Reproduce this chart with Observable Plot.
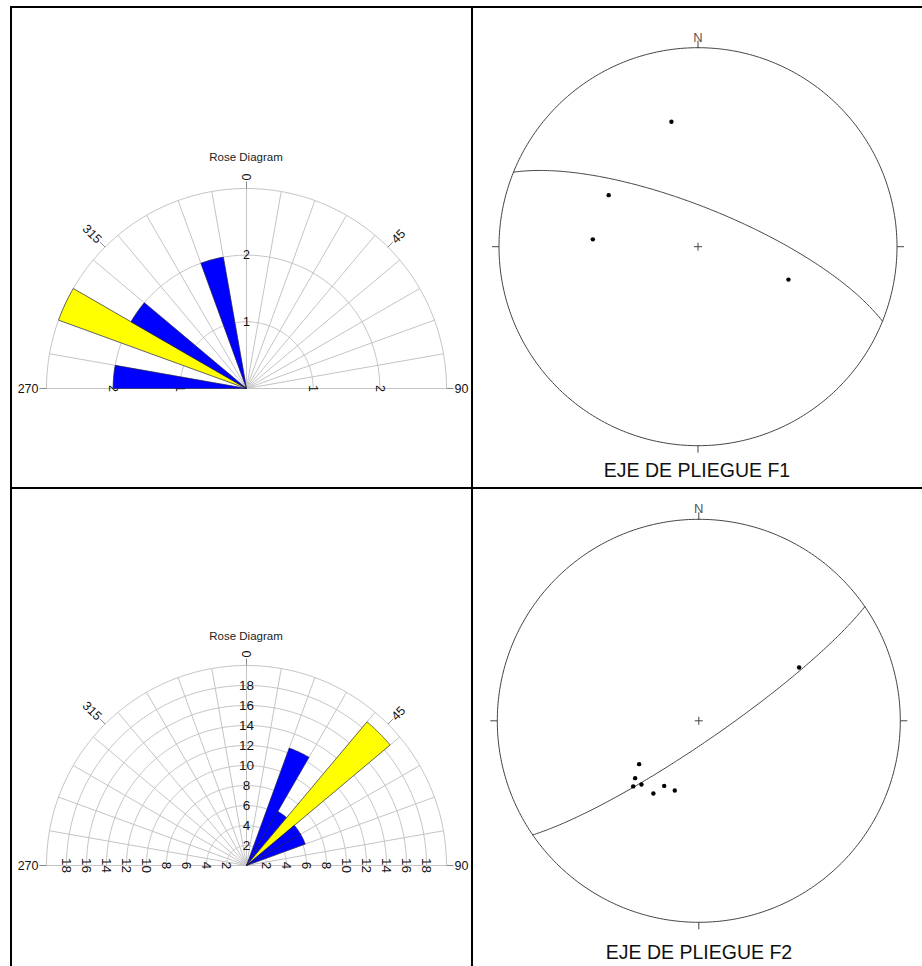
<!DOCTYPE html>
<html>
<head>
<meta charset="utf-8">
<script src="https://cdn.jsdelivr.net/npm/d3@7"></script>
<script src="https://cdn.jsdelivr.net/npm/@observablehq/plot@0.6"></script>
<style>
  body { margin: 0; background: #fff; font-family: "Liberation Sans", Arial, sans-serif; }
  #page { position: relative; width: 922px; height: 966px; overflow: hidden; background: #fff; }
  .rule { position: absolute; background: #000; }
  .title { position: absolute; text-align: center; white-space: nowrap; color: #222; }
  .panel { position: absolute; }
</style>
</head>
<body>
<div id="page"></div>
<script>
// ---- Rose diagram, fold F1 (counts per 10° bin, bin given by its start azimuth)
const rose1Bins = [270, 290, 300, 340];
const rose1Counts = [2, 3, 2, 2];
const rose1Rings = [1, 2, 3];
const rose1RingLabels = [1, 2];

// ---- Rose diagram, fold F2 (percent per 10° bin)
const rose2Bins = [20, 30, 40, 50, 60];
const rose2Percent = [12.5, 6.25, 18.75, 6.25, 6.25];
const rose2Rings = [2, 4, 6, 8, 10, 12, 14, 16, 18, 20];
const rose2RingLabels = [2, 4, 6, 8, 10, 12, 14, 16, 18];

const azimuthLabels = [270, 315, 0, 45, 90];

// ---- Stereonet F1: measured lines (trend / plunge) and fitted plane
const f1Trend = [348, 300, 274, 110];
const f1Plunge = [36, 47, 46, 50];
const f1PlaneDipDir = [22];
const f1PlaneDip = [74];

// ---- Stereonet F2
const f2Trend = [62, 234, 228, 225, 222, 212, 208, 199];
const f2Plunge = [43, 60, 55, 52, 55, 55, 60, 60];
const f2PlaneDipDir = [145.5];
const f2PlaneDip = [81.5];

const rad = Math.PI / 180;
const page = document.getElementById("page");

// table rules
[[10, 6, 912, 2], [10, 6, 2, 960], [471, 6, 2, 960], [10, 487, 912, 2]].forEach(([l, t, w, h]) => {
  const d = document.createElement("div");
  d.className = "rule";
  Object.assign(d.style, {left: l + "px", top: t + "px", width: w + "px", height: h + "px"});
  page.appendChild(d);
});

function addTitle(text, cx, top, size, width, color) {
  const d = document.createElement("div");
  d.className = "title";
  d.textContent = text;
  Object.assign(d.style, {
    left: (cx - width / 2) + "px", top: top + "px", width: width + "px",
    fontSize: size + "px", lineHeight: Math.round(size * 1.2) + "px", color
  });
  page.appendChild(d);
}

// linear x/y scales in chart units, k pixels per unit, origin at page point (cx, cy)
function frame(cell, cx, cy, k) {
  const [x0, y0, w, h] = cell;
  return {
    width: w, height: h,
    marginTop: 0, marginRight: 0, marginBottom: 0, marginLeft: 0,
    x: {domain: [(x0 - cx) / k, (x0 + w - cx) / k], axis: null},
    y: {domain: [(cy - (y0 + h)) / k, (cy - y0) / k], axis: null},
    style: {background: "transparent", overflow: "visible", fontFamily: "'Liberation Sans', Arial, sans-serif"}
  };
}

function place(svg, cell) {
  svg.classList.add("panel");
  svg.style.left = cell[0] + "px";
  svg.style.top = cell[1] + "px";
  page.appendChild(svg);
}

const polar = (r, a) => ({x: r * Math.sin(a * rad), y: r * Math.cos(a * rad)});
const arc = (r, a0, a1) => d3.range(a0, a1 + 1e-9, 1).map(a => polar(r, a));

function rose(cell, cx, cy, R, bins, values, rings, ringLabels, ringFont) {
  const max = d3.max(rings);
  const k = R / max;
  const peak = d3.max(values);
  const tick = 7 / k, gap = 8 / k;

  const ringPts = rings.flatMap(r => arc(r, -90, 90).map(p => ({...p, ring: r})));
  const rays = d3.range(-90, 90 + 1e-9, 10).map(a => ({a, ...polar(max, a)}));
  const petals = bins.flatMap((b, i) =>
    [{x: 0, y: 0}, ...arc(values[i], b, b + 10), {x: 0, y: 0}]
      .map(p => ({...p, id: i, color: values[i] === peak ? "#ffff00" : "#0000ff"})));
  const degTicks = azimuthLabels.map(a => ({p0: polar(max, a), p1: polar(max + tick, a)}));
  const degText = azimuthLabels.map(a => ({
    ...polar(max + gap, a), text: String(a),
    rotate: a < 180 ? a - 90 : a - 270, right: a < 180
  }));
  const vLabels = ringLabels.map(v => ({x: 0, y: v, text: String(v)}));
  const hLabels = ringLabels.flatMap(v => [{x: -v, y: 0, text: String(v)}, {x: v, y: 0, text: String(v)}]);

  const svg = Plot.plot({
    ...frame(cell, cx, cy, k),
    marks: [
      Plot.line(ringPts, {x: "x", y: "y", z: "ring", stroke: "#c4c4c4", strokeWidth: 1}),
      Plot.link(rays, {x1: 0, y1: 0, x2: "x", y2: "y", stroke: "#c4c4c4", strokeWidth: 1}),
      Plot.link(degTicks, {x1: d => d.p0.x, y1: d => d.p0.y, x2: d => d.p1.x, y2: d => d.p1.y, stroke: "#8a8a8a", strokeWidth: 1}),
      Plot.text(vLabels, {x: "x", y: "y", text: "text", fontSize: ringFont, fill: "#111"}),
      Plot.text(hLabels, {x: "x", y: "y", text: "text", rotate: 90, fontSize: ringFont, fill: "#111"}),
      Plot.line(petals, {x: "x", y: "y", z: "id", fill: "color", stroke: "#1a1a40", strokeWidth: 0.6, strokeLinejoin: "miter"}),
      Plot.text(degText.filter(d => d.right), {x: "x", y: "y", text: "text", rotate: "rotate", textAnchor: "start", fontSize: 12.5, fill: "#111"}),
      Plot.text(degText.filter(d => !d.right), {x: "x", y: "y", text: "text", rotate: "rotate", textAnchor: "end", fontSize: 12.5, fill: "#111"})
    ]
  });
  place(svg, cell);
}

// lower-hemisphere equal-area (Schmidt) projection, primitive radius 1
function project(trend, plunge) {
  const r = Math.SQRT2 * Math.sin((90 - plunge) / 2 * rad);
  return polar(r, trend);
}

function greatCircle(dipDir, dip) {
  const s = dipDir - 90;
  const sv = [Math.sin(s * rad), Math.cos(s * rad), 0];
  const dv = [Math.sin(dipDir * rad) * Math.cos(dip * rad), Math.cos(dipDir * rad) * Math.cos(dip * rad), Math.sin(dip * rad)];
  return d3.range(0, 180 + 1e-9, 1).map(a => {
    const c = Math.cos(a * rad), n = Math.sin(a * rad);
    const v = sv.map((e, i) => c * e + n * dv[i]);
    const plunge = Math.asin(Math.min(1, Math.max(-1, v[2]))) / rad;
    const trend = Math.atan2(v[0], v[1]) / rad;
    return project(trend, plunge);
  });
}

function stereonet(cell, cx, cy, R, trends, plunges, dipDirs, dips) {
  const k = R;
  const t = 7 / R, c = 4 / R;
  const primitive = d3.range(0, 360 + 1e-9, 1).map(a => polar(1, a));
  const planes = dipDirs.flatMap((dd, i) => greatCircle(dd, dips[i]).map(p => ({...p, id: i})));
  const pts = trends.map((tr, i) => project(tr, plunges[i]));
  const ticks = [0, 90, 180, 270].map(a => ({p0: polar(1, a), p1: polar(1 + t, a)}));
  const cross = [{x1: -c, y1: 0, x2: c, y2: 0}, {x1: 0, y1: -c, x2: 0, y2: c}];

  const svg = Plot.plot({
    ...frame(cell, cx, cy, k),
    marks: [
      Plot.line(primitive, {x: "x", y: "y", stroke: "#444", strokeWidth: 1}),
      Plot.link(ticks, {x1: d => d.p0.x, y1: d => d.p0.y, x2: d => d.p1.x, y2: d => d.p1.y, stroke: "#444", strokeWidth: 1}),
      Plot.link(cross, {x1: "x1", y1: "y1", x2: "x2", y2: "y2", stroke: "#444", strokeWidth: 1}),
      Plot.line(planes, {x: "x", y: "y", z: "id", stroke: "#444", strokeWidth: 1}),
      Plot.dot(pts, {x: "x", y: "y", r: 2.2, fill: "#000", stroke: "none"}),
      Plot.text([{x: 0, y: 1 + 10 / R}], {x: "x", y: "y", text: () => "N", fontSize: 13, fill: "#555"})
    ]
  });
  place(svg, cell);
}

const cellTL = [12, 8, 459, 479];
const cellTR = [473, 8, 449, 479];
const cellBL = [12, 489, 459, 477];
const cellBR = [473, 489, 449, 477];

rose(cellTL, 246, 388, 200, rose1Bins, rose1Counts, rose1Rings, rose1RingLabels, 12.5);
rose(cellBL, 246, 865, 200, rose2Bins, rose2Percent, rose2Rings, rose2RingLabels, 13.5);
stereonet(cellTR, 697.5, 246.2, 199, f1Trend, f1Plunge, f1PlaneDipDir, f1PlaneDip);
stereonet(cellBR, 698.3, 720.3, 201.5, f2Trend, f2Plunge, f2PlaneDipDir, f2PlaneDip);

addTitle("Rose Diagram", 246, 149.5, 11.5, 200, "#222");
addTitle("Rose Diagram", 246, 628.5, 11.5, 200, "#222");
addTitle("EJE DE PLIEGUE F1", 697, 459, 19.5, 300, "#111");
addTitle("EJE DE PLIEGUE F2", 699, 941, 19.5, 300, "#111");
</script>
</body>
</html>
